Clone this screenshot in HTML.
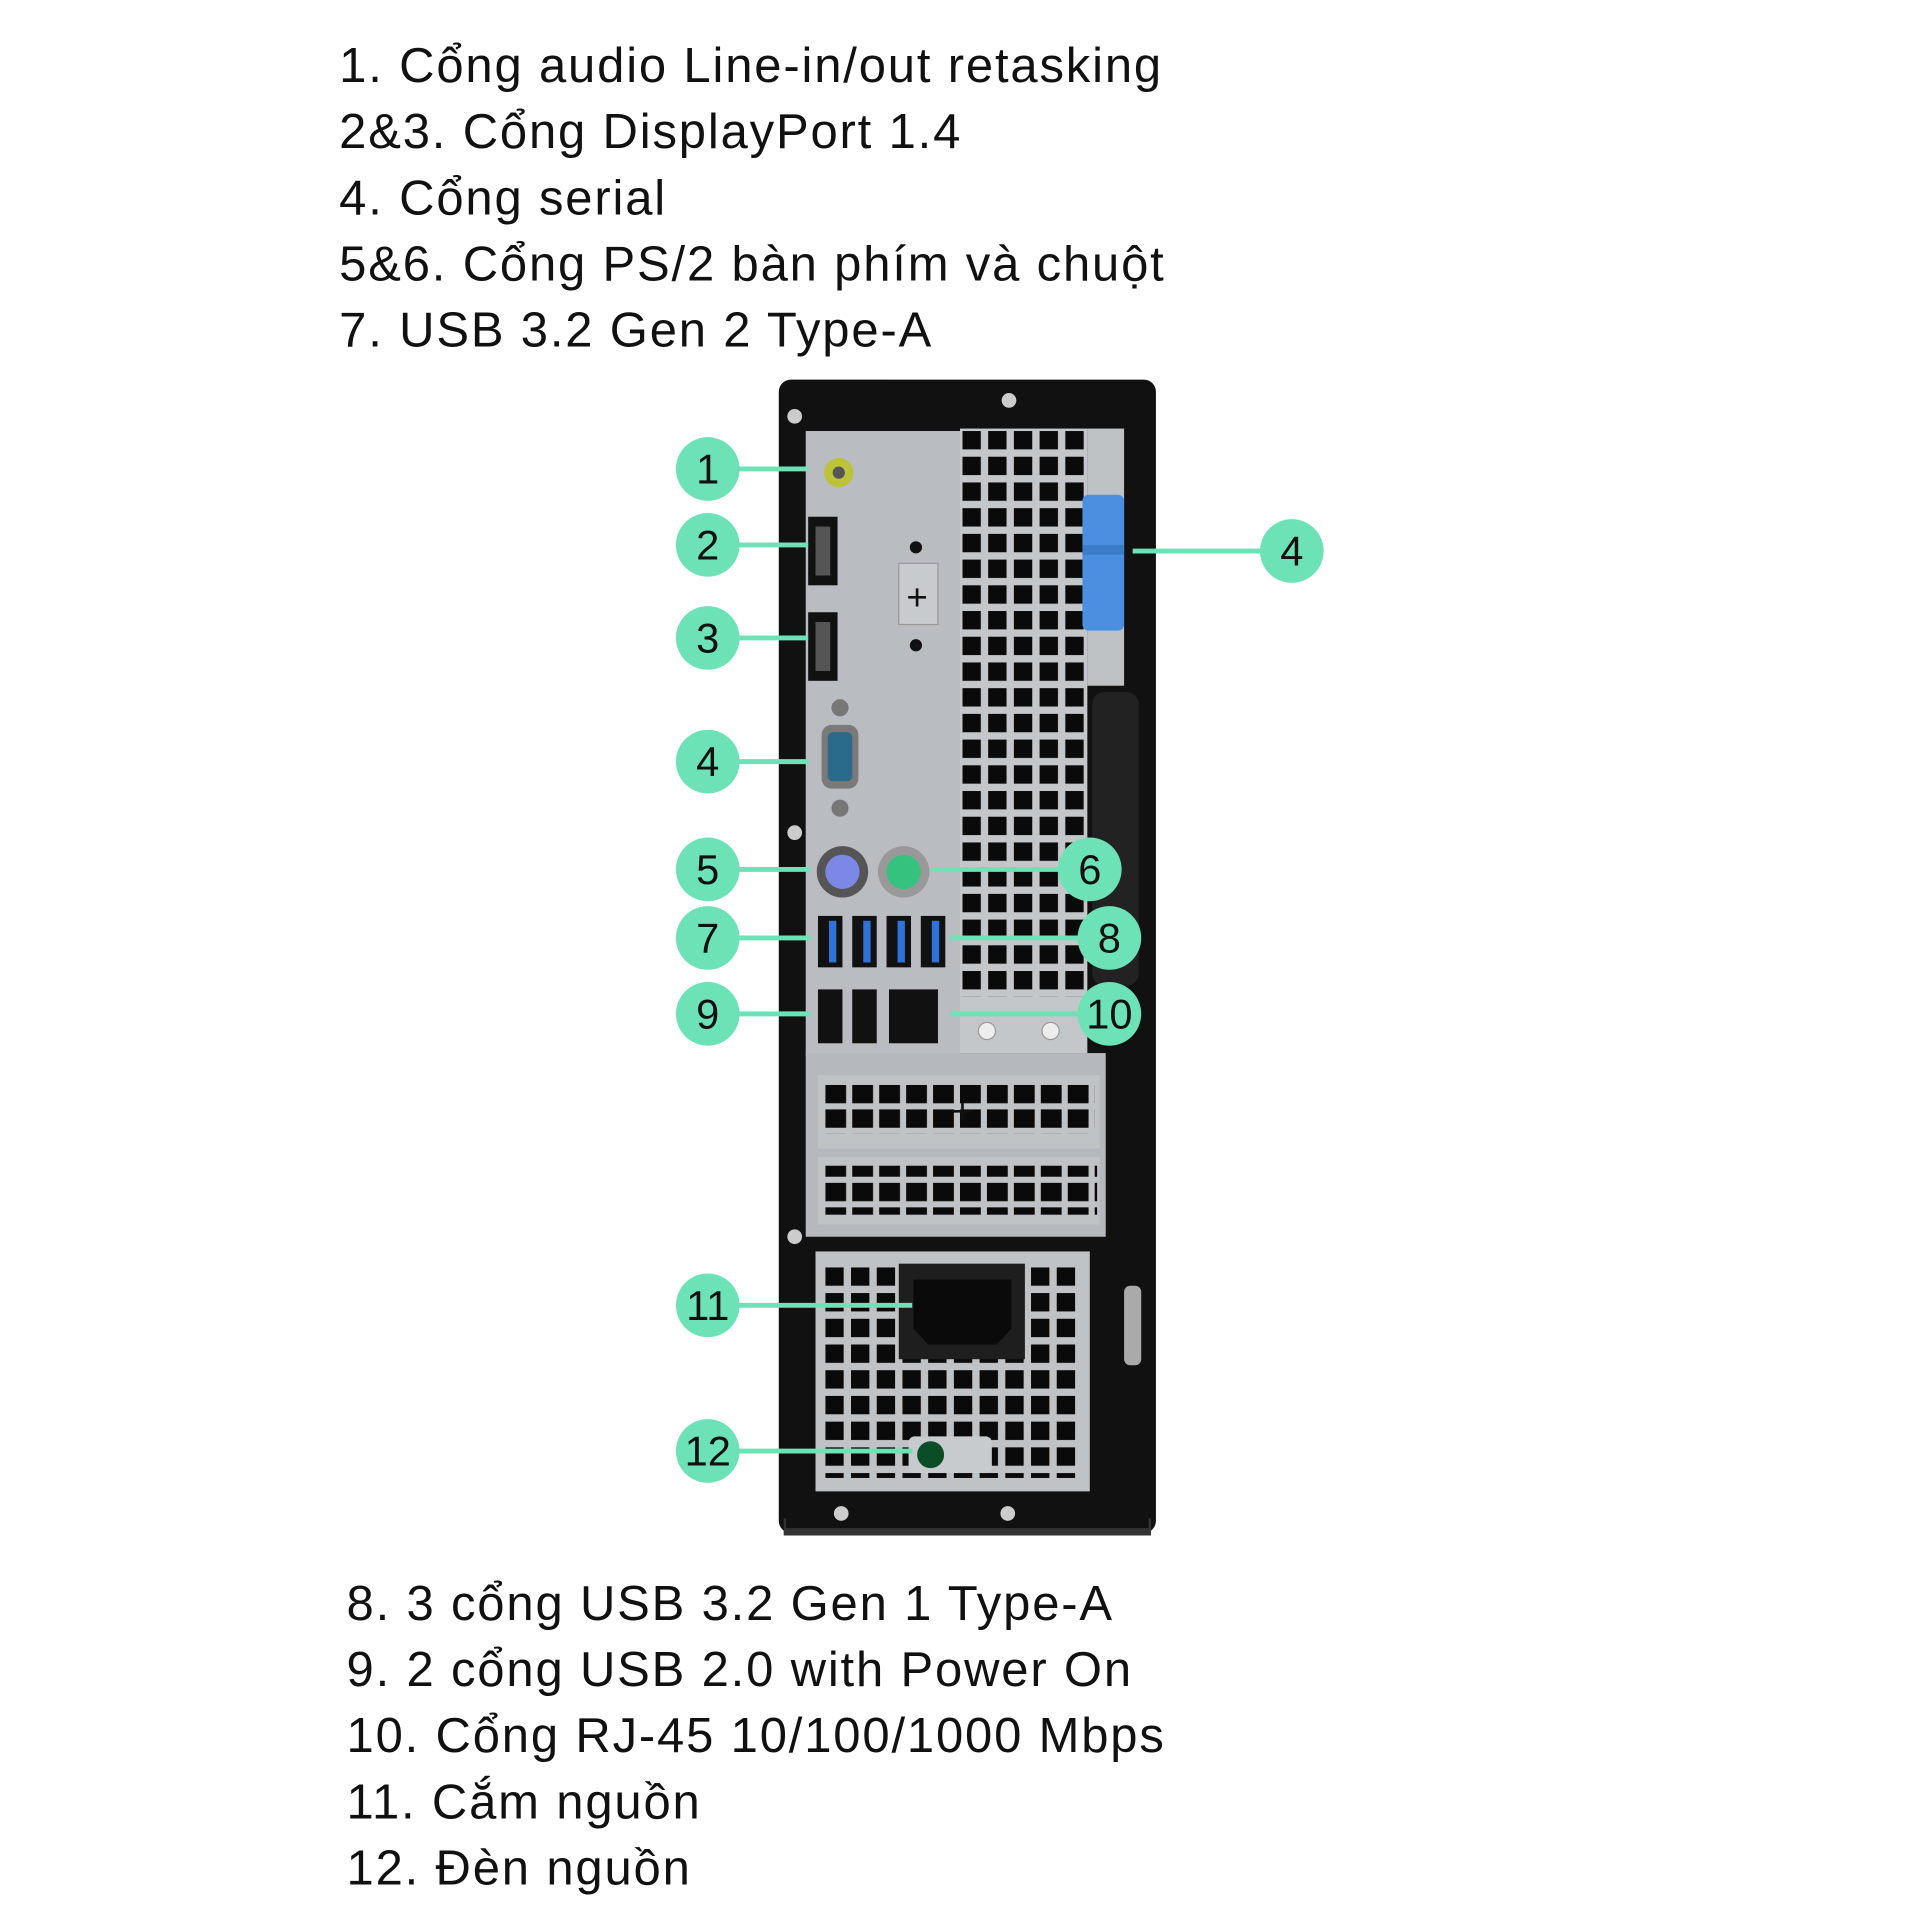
<!DOCTYPE html>
<html><head><meta charset="utf-8"><style>
html,body{margin:0;padding:0;background:#fff;}
svg{display:block;}
.t{font-family:"Liberation Sans","DejaVu Sans",sans-serif;font-size:40px;letter-spacing:1.5px;fill:#111;}
.n{font-family:"Liberation Sans",sans-serif;font-size:34px;fill:#111;text-anchor:middle;dominant-baseline:central;}
</style></head><body>
<svg width="1920" height="1920" viewBox="0 0 1568 1568" xmlns="http://www.w3.org/2000/svg">
<defs>
<pattern id="vent" x="786" y="352" width="21" height="21" patternUnits="userSpaceOnUse"><rect width="15" height="15" fill="#0a0a0a"/></pattern>
<pattern id="vent2" x="674" y="1035" width="21" height="21" patternUnits="userSpaceOnUse"><rect width="15" height="15" fill="#0a0a0a"/></pattern>
<pattern id="vent3" x="674" y="886" width="22" height="20" patternUnits="userSpaceOnUse"><rect width="17" height="15" fill="#0a0a0a"/></pattern>
</defs>
<g class="t">
<text x="277" y="67">1. Cổng audio Line-in/out retasking</text>
<text x="277" y="121">2&amp;3. Cổng DisplayPort 1.4</text>
<text x="277" y="175">4. Cổng serial</text>
<text x="277" y="229">5&amp;6. Cổng PS/2 bàn phím và chuột</text>
<text x="277" y="283">7. USB 3.2 Gen 2 Type-A</text>
<text x="283" y="1323">8. 3 cổng USB 3.2 Gen 1 Type-A</text>
<text x="283" y="1377">9. 2 cổng USB 2.0 with Power On</text>
<text x="283" y="1431">10. Cổng RJ-45 10/100/1000 Mbps</text>
<text x="283" y="1485">11. Cắm nguồn</text>
<text x="283" y="1539">12. Đèn nguồn</text>
</g>
<!-- case -->
<rect x="636" y="310" width="308" height="942" rx="10" fill="#111"/>
<rect x="640" y="1240" width="300" height="14" fill="#333"/>
<rect x="658" y="352" width="126" height="510" fill="#b9bdc1"/>
<rect x="784" y="350" width="104" height="510" fill="#c4c7ca"/>
<rect x="786" y="352" width="100" height="462" fill="url(#vent)"/>
<rect x="888" y="350" width="30" height="210" fill="#bfc2c5"/>
<rect x="658" y="860" width="245" height="150" fill="#b5b9bd"/>
<rect x="668" y="878" width="230" height="60" fill="#c0c3c6"/>
<rect x="674" y="886" width="220" height="40" fill="url(#vent3)"/>
<rect x="668" y="945" width="230" height="55" fill="#c0c3c6"/>
<rect x="674" y="952" width="222" height="40" fill="url(#vent3)"/>
<text x="786" y="918" font-size="30" font-family="Liberation Sans" text-anchor="middle" fill="#111">+</text>
<rect x="666" y="1022" width="224" height="196" fill="#c0c3c6"/>
<rect x="674" y="1035" width="205" height="172" fill="url(#vent2)"/>
<rect x="734" y="1032" width="103" height="78" fill="#1e1e1e"/>
<path d="M746 1045 H826 V1085 L814 1098 H758 L746 1085Z" fill="#0a0a0a"/>
<rect x="742" y="1173" width="68" height="30" rx="5" fill="#c8cbce"/>
<circle cx="760" cy="1188" r="11" fill="#0b4d26"/>
<rect x="642" y="1218" width="296" height="30" fill="#111"/>
<circle cx="687" cy="1236" r="6" fill="#ccc"/><circle cx="823" cy="1236" r="6" fill="#ccc"/>
<circle cx="649" cy="340" r="6" fill="#ccc"/><circle cx="824" cy="327" r="6" fill="#ccc"/>
<circle cx="649" cy="680" r="6" fill="#ccc"/><circle cx="649" cy="1010" r="6" fill="#ccc"/>
<rect x="892" y="565" width="38" height="240" rx="10" fill="#222"/>
<rect x="918" y="1050" width="14" height="65" rx="5" fill="#aaa"/>
<!-- blue clip -->
<rect x="884" y="404" width="34" height="111" rx="5" fill="#4a8fe0"/>
<rect x="884" y="445" width="34" height="8" fill="#3b7cc8"/>
<!-- IO ports -->
<circle cx="685" cy="386" r="12" fill="#bcc23a"/><circle cx="685" cy="386" r="5" fill="#555"/>
<rect x="660" y="422" width="24" height="56" fill="#111"/><rect x="666" y="430" width="12" height="40" fill="#555"/>
<rect x="660" y="500" width="24" height="56" fill="#111"/><rect x="666" y="508" width="12" height="40" fill="#555"/>
<rect x="734" y="460" width="32" height="50" fill="#c8cbce" stroke="#999"/>
<text x="749" y="498" font-size="30" font-family="Liberation Sans" text-anchor="middle" fill="#111">+</text>
<circle cx="748" cy="447" r="5" fill="#111"/><circle cx="748" cy="527" r="5" fill="#111"/>
<rect x="671" y="592" width="30" height="52" rx="8" fill="#7a7b78"/>
<rect x="676" y="598" width="20" height="40" rx="4" fill="#2a6a8a"/>
<circle cx="686" cy="578" r="7" fill="#777"/><circle cx="686" cy="660" r="7" fill="#777"/>
<circle cx="688" cy="712" r="21" fill="#555"/><circle cx="688" cy="712" r="14" fill="#7b88e6"/>
<circle cx="738" cy="712" r="21" fill="#999"/><circle cx="738" cy="712" r="14" fill="#35c27f"/>
<g fill="#111"><rect x="668" y="748" width="20" height="42"/><rect x="696" y="748" width="20" height="42"/><rect x="724" y="748" width="20" height="42"/><rect x="752" y="748" width="20" height="42"/></g>
<g fill="#2f73d8"><rect x="677" y="752" width="6" height="34"/><rect x="705" y="752" width="6" height="34"/><rect x="733" y="752" width="6" height="34"/><rect x="761" y="752" width="6" height="34"/></g>
<g fill="#111"><rect x="668" y="808" width="20" height="44"/><rect x="696" y="808" width="20" height="44"/><rect x="726" y="808" width="40" height="44"/></g>
<g fill="#eee" stroke="#999"><circle cx="806" cy="842" r="7"/><circle cx="858" cy="842" r="7"/></g>
<!-- connectors -->
<g stroke="#6de2b6" stroke-width="4">
<line x1="600" y1="383" x2="660" y2="383"/><line x1="600" y1="445" x2="660" y2="445"/>
<line x1="600" y1="521" x2="660" y2="521"/><line x1="600" y1="622" x2="660" y2="622"/>
<line x1="600" y1="710" x2="662" y2="710"/><line x1="600" y1="766" x2="662" y2="766"/>
<line x1="600" y1="828" x2="662" y2="828"/><line x1="600" y1="1066" x2="745" y2="1066"/>
<line x1="600" y1="1185" x2="745" y2="1185"/>
<line x1="925" y1="450" x2="1035" y2="450"/><line x1="760" y1="710" x2="870" y2="710"/>
<line x1="776" y1="766" x2="885" y2="766"/><line x1="776" y1="828" x2="885" y2="828"/>
</g>
<g fill="#6de2b6">
<circle cx="578" cy="383" r="26"/><circle cx="578" cy="445" r="26"/><circle cx="578" cy="521" r="26"/>
<circle cx="578" cy="622" r="26"/><circle cx="578" cy="710" r="26"/><circle cx="578" cy="766" r="26"/>
<circle cx="578" cy="828" r="26"/><circle cx="578" cy="1066" r="26"/><circle cx="578" cy="1185" r="26"/>
<circle cx="1055" cy="450" r="26"/><circle cx="890" cy="710" r="26"/><circle cx="906" cy="766" r="26"/><circle cx="906" cy="828" r="26"/>
</g>
<g class="n">
<text x="578" y="383">1</text><text x="578" y="445">2</text><text x="578" y="521">3</text>
<text x="578" y="622">4</text><text x="578" y="710">5</text><text x="578" y="766">7</text>
<text x="578" y="828">9</text><text x="578" y="1066">11</text><text x="578" y="1185">12</text>
<text x="1055" y="450">4</text><text x="890" y="710">6</text><text x="906" y="766">8</text><text x="906" y="828">10</text>
</g>
</svg>
</body></html>
